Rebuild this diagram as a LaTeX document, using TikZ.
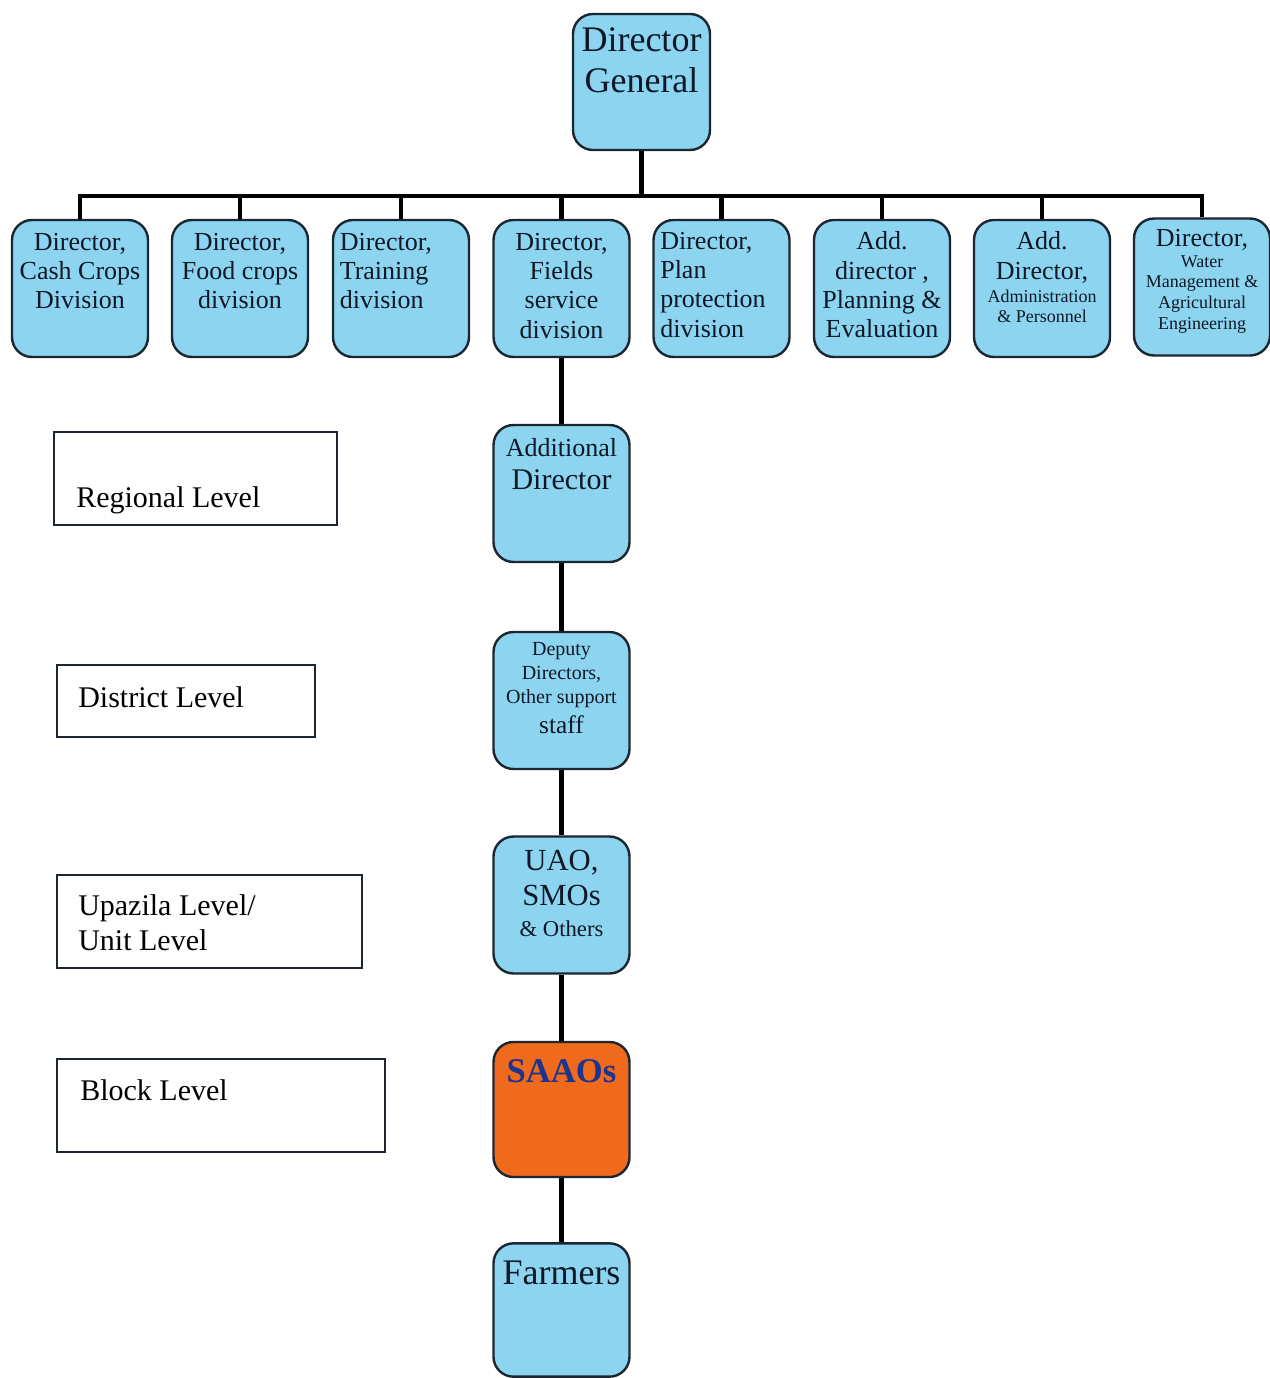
\documentclass[tikz,border=0pt]{standalone}
\usepackage{fontspec}
\setmainfont{Liberation Serif}
\usetikzlibrary{calc,backgrounds}
\definecolor{boxblue}{RGB}{140,212,240}
\definecolor{boxline}{RGB}{28,38,48}
\definecolor{txtc}{RGB}{14,24,38}
\definecolor{saaofill}{RGB}{240,106,30}
\definecolor{saaotext}{RGB}{28,52,140}
\begin{document}
\begin{tikzpicture}[x=0.75pt,y=-0.75pt,
 bx/.style={draw=boxline, line width=1.8pt, fill=boxblue, rounded corners=15pt, minimum width=102pt, minimum height=102.75pt, inner sep=0pt},
 lvl/.style={draw=boxline, line width=1.5pt, fill=white, inner sep=0pt},
 conn/.style={line width=3.6pt, black},
 tx/.style={inner sep=0pt, outer sep=0pt, text=txtc, align=center},
 rowf/.style={font=\fontsize{19.5}{22}\selectfont},
 smallf/.style={font=\fontsize{13.5}{15}\selectfont},
 lvf/.style={font=\fontsize{22.5}{26}\selectfont, text=black, anchor=base west, inner sep=0pt, align=left},
]
\useasboundingbox (0,0) rectangle (1270,1378);

% Director General
\node[bx, minimum width=102.75pt, minimum height=102pt] (dg) at (641.5,82) {};
\node[tx, anchor=north, font=\fontsize{27}{31}\selectfont] (dgt) at ($(dg.north)+(0,15)$) {Director\\General};

% Row of directors
\node[bx] (b1) at (80,288.5) {};
\node[bx] (b2) at (240,288.5) {};
\node[bx] (b3) at (401,288.5) {};
\node[bx] (b4) at (561.5,288.5) {};
\node[bx] (b5) at (721.5,288.5) {};
\node[bx] (b6) at (882,288.5) {};
\node[bx] (b7) at (1042,288.5) {};
\node[bx] (b8) at (1202,287) {};

\node[tx, rowf, anchor=north] (t1) at ($(b1.north)+(0,14)$) {Director,\\Cash Crops\\Division};
\node[tx, rowf, anchor=north] (t2) at ($(b2.north)+(0,14)$) {Director,\\Food crops\\division};
\node[tx, rowf, anchor=north west, align=left] (t3) at ($(b3.north west)+(8,14)$) {Director,\\Training\\division};
\node[tx, rowf, anchor=north] (t4) at ($(b4.north)+(0,14)$) {Director,\\Fields\\service\\division};
\node[tx, rowf, anchor=north west, align=left] (t5) at ($(b5.north west)+(8,13)$) {Director,\\Plan\\protection\\division};
\node[tx, rowf, anchor=north] (t6) at ($(b6.north)+(0,13)$) {Add.\\director ,\\Planning \&\\Evaluation};
\node[tx, rowf, anchor=north] (t7) at ($(b7.north)+(0,13)$) {Add.\\Director,};
\node[tx, smallf, anchor=north] (t7b) at ($(b7.north)+(0,71)$) {Administration\\\& Personnel};
\node[tx, rowf, anchor=north] (t8) at ($(b8.north)+(0,12)$) {Director,};
\node[tx, font=\fontsize{13.5}{15.5}\selectfont, anchor=north] (t8b) at ($(b8.north)+(0,38)$) {Water\\Management \&\\Agricultural\\Engineering};

% Vertical chain
\node[bx] (ad) at (561.5,493.5) {};
\node[tx, anchor=north, font=\fontsize{19.5}{22}\selectfont] (adt1) at ($(ad.north)+(0,15)$) {Additional};
\node[tx, anchor=north, font=\fontsize{22.5}{26}\selectfont] (adt2) at ($(ad.north)+(0,45.5)$) {Director};

\node[bx] (dep) at (561.5,700.5) {};
\node[tx, anchor=north, font=\fontsize{15}{18}\selectfont] (dept) at ($(dep.north)+(0,12)$) {Deputy\\Directors,\\Other support};
\node[tx, anchor=north, font=\fontsize{19}{22}\selectfont] (dept2) at ($(dep.north)+(0,85)$) {staff};

\node[bx] (uao) at (561.5,905) {};
\node[tx, anchor=north, font=\fontsize{23}{26.25}\selectfont] (uaot) at ($(uao.north)+(0,15)$) {UAO,\\SMOs};
\node[tx, anchor=north, font=\fontsize{17}{20}\selectfont] (uaot2) at ($(uao.north)+(0,85)$) {\& Others};

\node[bx, fill=saaofill, minimum height=101.25pt] (saao) at (561.5,1109.5) {};
\node[tx, anchor=north, text=saaotext, font=\fontsize{26}{30}\selectfont\bfseries] (saaot) at ($(saao.north)+(0,19)$) {SAAOs};

\node[bx, minimum height=100pt] (farm) at (561.5,1310) {};
\node[tx, anchor=north, font=\fontsize{27}{31}\selectfont] (farmt) at ($(farm.north)+(0,18.5)$) {Farmers};

% Level boxes
\node[lvl, minimum width=0.75*283pt, minimum height=0.75*93pt] (lv1) at (195.5,478.5) {};
\node[lvf] (lv1t) at (76,507) {Regional Level};
\node[lvl, minimum width=0.75*258pt, minimum height=0.75*72pt] (lv2) at (186,701) {};
\node[lvf] (lv2t) at (78,707) {District Level};
\node[lvl, minimum width=0.75*305pt, minimum height=0.75*93pt] (lv3) at (209.5,921.5) {};
\node[lvf] (lv3t) at (78,915) {Upazila Level/};
\node[lvf] (lv3u) at (78,950) {Unit Level};
\node[lvl, minimum width=0.75*328pt, minimum height=0.75*93pt] (lv4) at (221,1105.5) {};
\node[lvf] (lv4t) at (80,1100) {Block Level};

% Connectors
\begin{scope}[on background layer]
\coordinate (bus) at (641.5,196);
\draw[conn] (dg.south) -- (bus);
\draw[conn] (b1.north) -- (b1.north |- bus) -- (b8.north |- bus) -- (b8.north);
\foreach \b in {b2,b3,b4,b5,b6,b7} {\draw[conn] (\b.north) -- (\b.north |- bus);}
\draw[conn] (b4.south) -- (ad.north);
\draw[conn] (ad.south) -- (dep.north);
\draw[conn] (dep.south) -- (uao.north);
\draw[conn] (uao.south) -- (saao.north);
\draw[conn] (saao.south) -- (farm.north);
\end{scope}
\end{tikzpicture}
\end{document}
